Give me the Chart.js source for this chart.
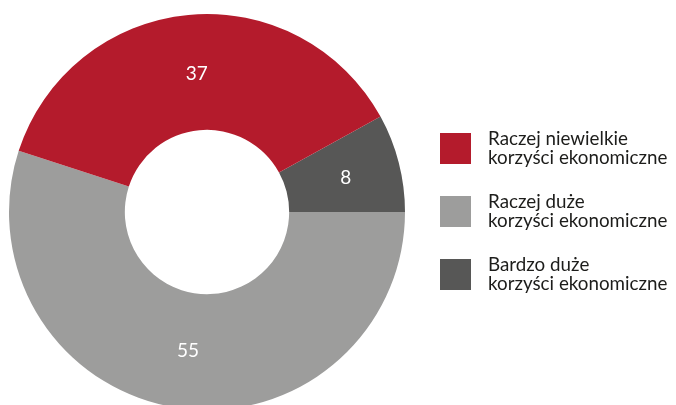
<!DOCTYPE html>
<html>
<head>
<meta charset="utf-8">
<script src="https://cdn.jsdelivr.net/npm/chart.js@4"></script>
<style>
  html, body { margin: 0; padding: 0; background: #fff; overflow: hidden; }
  #wrap { position: relative; width: 676px; height: 420px; }
  #legend { position: absolute; left: 440px; top: 0; font-family: Lato, sans-serif; font-size: 18.8px; color: #1d1d1b; }
  .item { position: absolute; left: 0; width: 240px; }
  .box { position: absolute; left: 0; top: 0; width: 31px; height: 31px; }
  .txt { position: absolute; left: 48px; top: -5px; line-height: 19px; white-space: nowrap; }
</style>
</head>
<body>
<div id="wrap">
  <canvas id="chart" width="676" height="420"></canvas>
  <div id="legend"></div>
</div>
<script>
const categories = [
  ['Raczej niewielkie', 'korzyści ekonomiczne'],
  ['Raczej duże', 'korzyści ekonomiczne'],
  ['Bardzo duże', 'korzyści ekonomiczne']
];
const shares = [37, 55, 8];
const colors = ['#b41b2c', '#9d9d9c', '#575756'];

// legend on the right
const legendTops = [133, 196, 259];
const legend = document.getElementById('legend');
categories.forEach((lines, i) => {
  const item = document.createElement('div');
  item.className = 'item';
  item.style.top = legendTops[i] + 'px';
  item.innerHTML = `<div class="box" style="background:${colors[i]}"></div><div class="txt">${lines.join('<br>')}</div>`;
  legend.appendChild(item);
});

// slices go counter-clockwise in the legend order, so feed them reversed
const order = [2, 1, 0];
const valueLabels = {
  id: 'valueLabels',
  afterDatasetsDraw(chart) {
    const ctx = chart.ctx;
    const meta = chart.getDatasetMeta(0);
    ctx.save();
    ctx.fillStyle = '#ffffff';
    ctx.font = '19px Lato, sans-serif';
    ctx.textAlign = 'center';
    ctx.textBaseline = 'middle';
    meta.data.forEach((arc, i) => {
      const p = arc.tooltipPosition();
      ctx.fillText(String(chart.data.datasets[0].data[i]), p.x + 3, p.y + 1);
    });
    ctx.restore();
  }
};

new Chart(document.getElementById('chart').getContext('2d'), {
  type: 'doughnut',
  data: {
    labels: order.map(i => categories[i].join(' ')),
    datasets: [{
      data: order.map(i => shares[i]),
      backgroundColor: order.map(i => colors[i]),
      borderWidth: 0,
      hoverOffset: 0,
      offset: 0
    }]
  },
  options: {
    responsive: false,
    animation: false,
    cutout: '41.5%',
    rotation: 61.2,
    layout: { padding: { left: 9, right: 271, top: 14, bottom: 10 } },
    plugins: {
      legend: { display: false },
      tooltip: { enabled: false }
    }
  },
  plugins: [valueLabels]
});
</script>
</body>
</html>
